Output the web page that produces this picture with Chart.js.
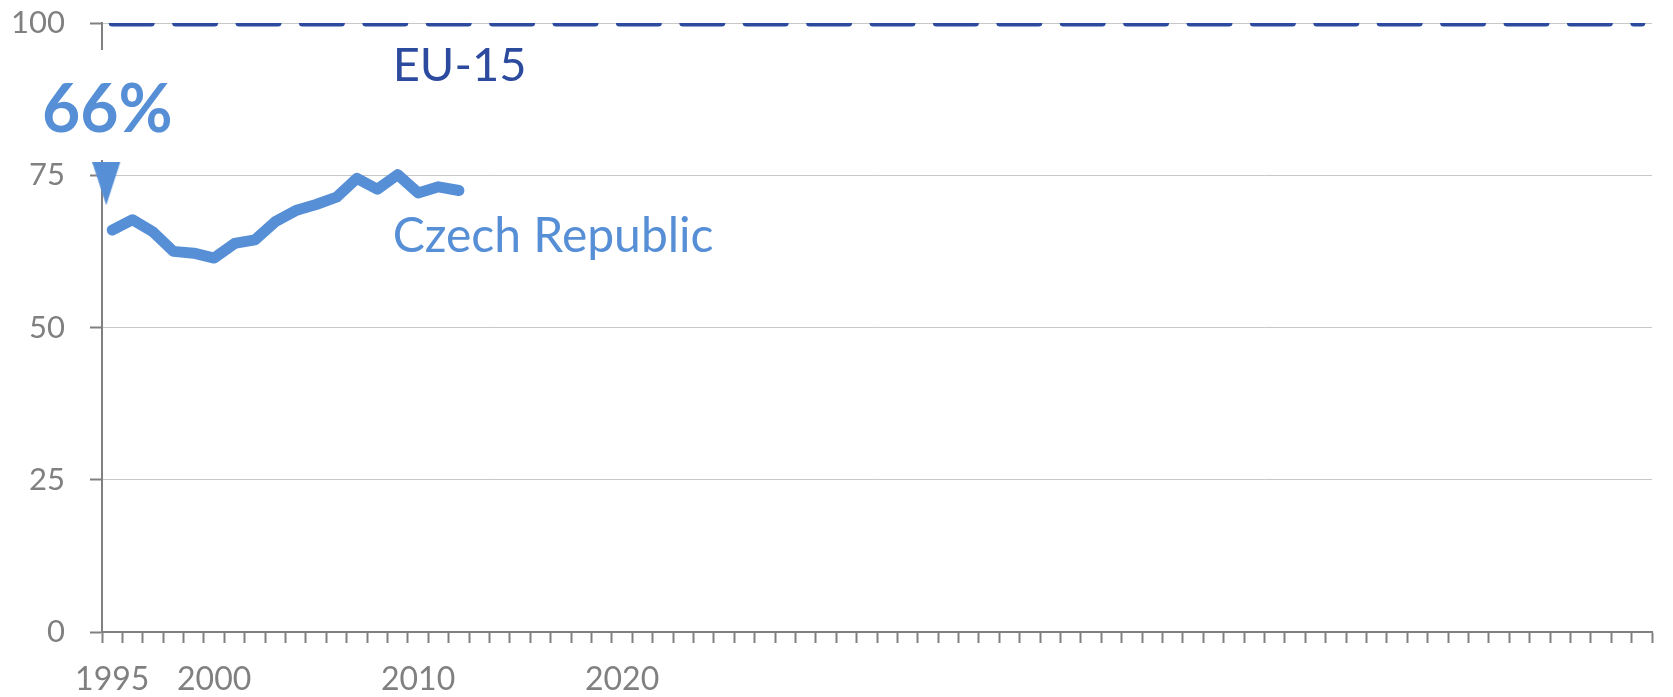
<!DOCTYPE html>
<html>
<head>
<meta charset="utf-8">
<title>Czech Republic vs EU-15</title>
<script src="https://cdn.jsdelivr.net/npm/chart.js@4.4.0/dist/chart.umd.min.js"></script>
<style>
  html, body { margin: 0; padding: 0; background: #ffffff; }
  #wrap { width: 1673px; height: 697px; }
</style>
</head>
<body>
<div id="wrap"><canvas id="gapChart" width="1673" height="697"></canvas></div>
<script>
var firstYear = 1995
var lastYear = 2070
var shownYears = ["1995", "2000", "2010", "2020"]

// Czech Republic, EU-15 = 100
var czYears = ["1995", "1996", "1997", "1998", "1999", "2000", "2001", "2002", "2003",
               "2004", "2005", "2006", "2007", "2008", "2009", "2010", "2011", "2012"]
var czValues = [66, 67.7, 65.7, 62.5, 62.2, 61.4, 63.8, 64.4, 67.4,
                69.2, 70.2, 71.4, 74.5, 72.7, 75.1, 72.1, 73.1, 72.5]

// EU-15 reference level
var euYears = ["1995", "2070"]
var euValues = [100, 100]

// arrow over the start of the czech line
var arrowYears = ["1995"]
var arrowValues = [73.6]

var lightBlue = "#568fd6"
var darkBlue = "#2c4b9f"
var gray = "#808080"

var years = []
for (var yr = firstYear; yr <= lastYear; yr++) {
  years.push(String(yr))
}

function toPoints(xs, ys) {
  var out = []
  for (var i = 0; i < xs.length; i++) {
    out.push({ x: xs[i], y: ys[i] })
  }
  return out
}

// tall narrow down-pointing triangle, drawn a bit left of centre
function arrowImage() {
  var cv = document.createElement("canvas")
  cv.width = 40
  cv.height = 43
  var g = cv.getContext("2d")
  g.fillStyle = lightBlue
  g.beginPath()
  g.moveTo(0, 0)
  g.lineTo(28, 0)
  g.lineTo(14, 43)
  g.closePath()
  g.fill()
  return cv
}

var startPct = Math.round(czValues[0] / euValues[0] * 100) + "%"

var notesPlugin = {
  id: "notes",
  afterDatasetsDraw: function(chart) {
    var c = chart.ctx
    var xs = chart.scales.x
    var ys = chart.scales.y
    c.save()

    // big percentage, white box behind it hides the axis line
    var px = xs.left - 60
    var py = ys.getPixelForValue(82.1)
    c.fillStyle = "#ffffff"
    c.fillRect(px - 10, py - 82, 145, 110)
    c.font = "bold 66px Lato"
    c.fillStyle = lightBlue
    c.textAlign = "left"
    c.textBaseline = "alphabetic"
    c.fillText(startPct, px, py)

    var lx = xs.getPixelForValue(14) - 5
    c.font = "47px Lato"
    c.fillStyle = darkBlue
    c.fillText("EU-15", lx, ys.getPixelForValue(90.4))
    c.font = "48px Lato"
    c.fillStyle = lightBlue
    c.fillText("Czech Republic", lx, ys.getPixelForValue(62.4))
    c.restore()
  }
}

Chart.defaults.font.family = "Lato"
Chart.defaults.color = gray

var ctx = document.getElementById("gapChart").getContext("2d")

var myChart = new Chart(ctx, {
  type: "line",
  data: {
    labels: years,
    datasets: [
      {
        label: "EU-15",
        data: toPoints(euYears, euValues),
        borderColor: darkBlue,
        borderWidth: 7,
        borderDash: [39, 24.4],
        borderCapStyle: "round",
        pointRadius: 0,
        clip: 0,
        order: 3
      },
      {
        label: "Czech Republic",
        data: toPoints(czYears, czValues),
        borderColor: lightBlue,
        borderWidth: 11,
        borderCapStyle: "round",
        borderJoinStyle: "round",
        pointRadius: 0,
        tension: 0,
        order: 2
      },
      {
        label: "start",
        data: toPoints(arrowYears, arrowValues),
        showLine: false,
        pointStyle: arrowImage(),
        pointRadius: 20,
        clip: false,
        order: 1
      }
    ]
  },
  options: {
    responsive: false,
    animation: false,
    devicePixelRatio: 1,
    layout: { padding: { top: 23, right: 8, left: 0, bottom: 0 } },
    plugins: {
      legend: { display: false },
      tooltip: { enabled: false }
    },
    scales: {
      x: {
        type: "category",
        offset: true,
        afterFit: function(s) {
          s.height = 65
          s.paddingLeft = 0
          s.paddingRight = 0
        },
        grid: {
          display: true,
          offset: true,
          drawOnChartArea: false,
          drawTicks: true,
          tickLength: 11,
          tickColor: gray,
          tickWidth: 2,
          color: gray
        },
        border: { display: true, color: gray, width: 2 },
        ticks: {
          autoSkip: false,
          maxRotation: 0,
          padding: 17,
          color: gray,
          font: { size: 32 },
          callback: function(v, i) {
            var lab = this.getLabelForValue(v)
            return shownYears.indexOf(lab) >= 0 ? lab : ""
          }
        }
      },
      y: {
        min: 0,
        max: 100,
        afterFit: function(s) {
          s.width = 102
          s.paddingTop = 0
          s.paddingBottom = 0
        },
        grid: {
          color: "#c8c8c8",
          lineWidth: 1,
          tickLength: 12,
          tickColor: gray,
          tickWidth: 2
        },
        border: { display: true, color: gray, width: 2 },
        ticks: {
          stepSize: 25,
          padding: 25,
          color: gray,
          font: { size: 31 }
        }
      }
    }
  },
  plugins: [notesPlugin]
})
</script>
</body>
</html>
